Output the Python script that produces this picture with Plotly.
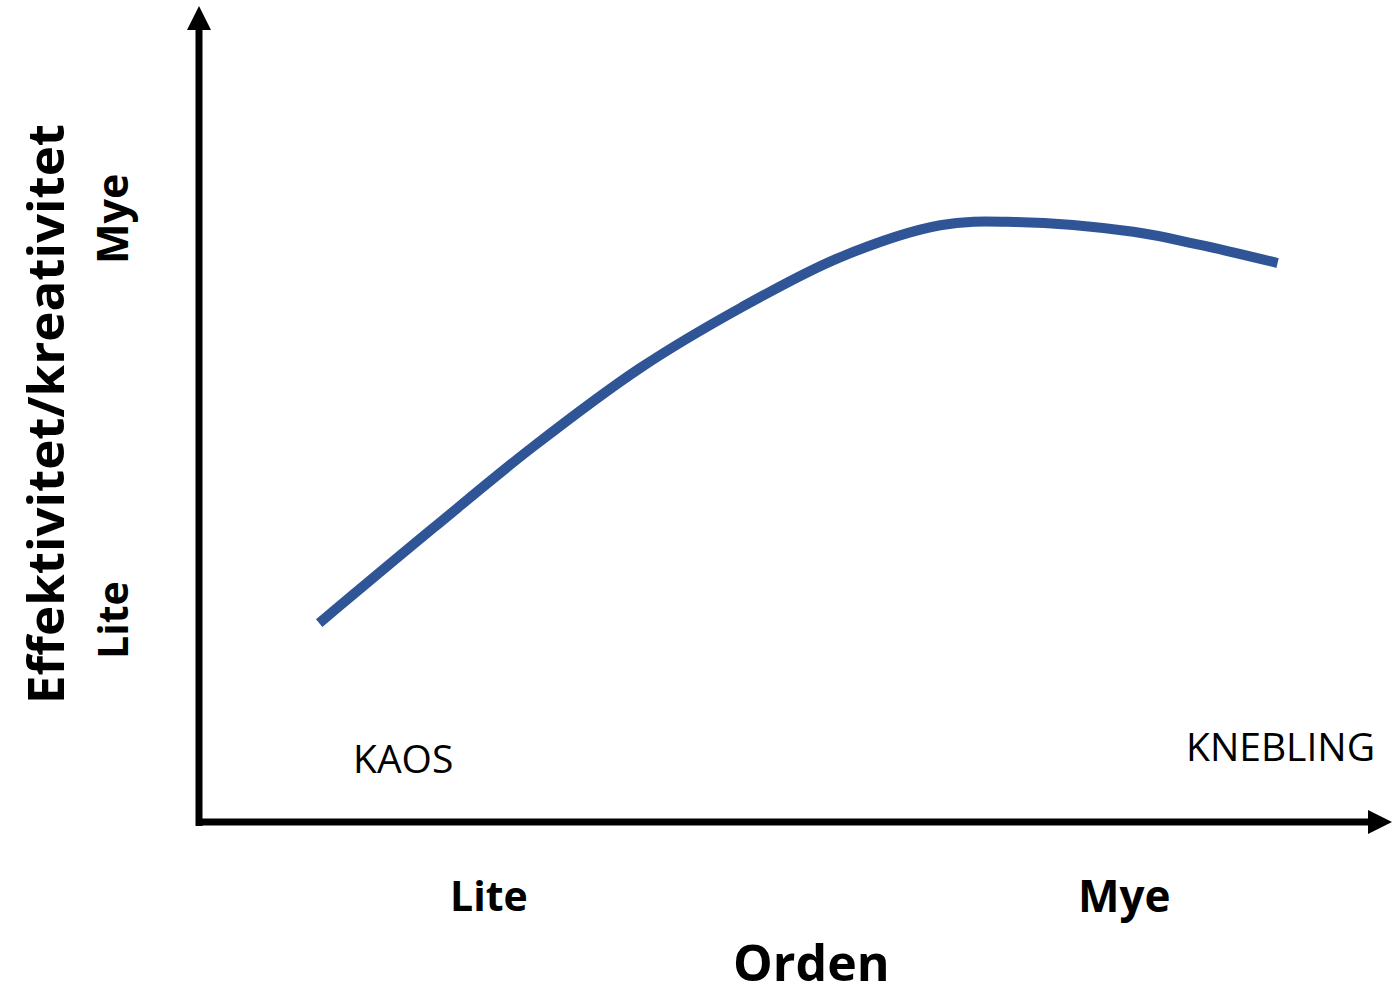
import plotly.graph_objects as go

# ---- data (abstract units: 0-100 on both axes) ----
orden = [10.0, 19.6, 27.9, 36.9, 45.3, 53.7, 62.1, 68.3, 78.3, 83.9, 90.4]
effekt = [24.2, 35.8, 45.6, 55.2, 62.5, 68.7, 72.6, 73.0, 71.8, 70.2, 68.0]

x_tick_labels = ["Lite", "Mye"]
y_tick_labels = ["Lite", "Mye"]
x_title = "Orden"
y_title = "Effektivitet/kreativitet"
region_labels = ["KAOS", "KNEBLING"]

W, H = 1392, 996
L, B = 200, 174  # plot area origin in pixels (left, from bottom)
PW, PH = W - L, H - B

def px(x):
    return (x - L) / PW

def py(y):
    return (H - B - y) / PH

fig = go.Figure()
fig.add_trace(go.Scatter(
    x=orden, y=effekt, mode="lines",
    line=dict(color="#2F5597", width=10, shape="spline", smoothing=1.0),
    hoverinfo="skip", showlegend=False,
))

shapes = []
# vertical axis shaft
shapes.append(dict(type="line", xref="paper", yref="paper",
                   x0=px(199), y0=py(826), x1=px(199), y1=py(27),
                   line=dict(color="black", width=7)))
# horizontal axis shaft
shapes.append(dict(type="line", xref="paper", yref="paper",
                   x0=px(196), y0=py(822), x1=px(1372), y1=py(822),
                   line=dict(color="black", width=7)))

def tri(p1, p2, p3):
    return "M {} {} L {} {} L {} {} Z".format(px(p1[0]), py(p1[1]), px(p2[0]), py(p2[1]), px(p3[0]), py(p3[1]))

shapes.append(dict(type="path", xref="paper", yref="paper",
                   path=tri((199, 6), (187, 30), (211, 30)),
                   fillcolor="black", line=dict(color="black", width=0)))
shapes.append(dict(type="path", xref="paper", yref="paper",
                   path=tri((1392, 822), (1368, 810), (1368, 834)),
                   fillcolor="black", line=dict(color="black", width=0)))

ann = []

def add_text(text, x, y, size, weight="bold", angle=0):
    ann.append(dict(text=text, xref="paper", yref="paper", x=px(x), y=py(y),
                    xanchor="center", yanchor="middle", showarrow=False,
                    textangle=angle,
                    font=dict(family="Open Sans", size=size, color="black", weight=weight)))

add_text(x_tick_labels[0], 489, 895, 41)
add_text(x_tick_labels[1], 1124, 895, 44)
add_text(x_title, 811, 962, 50)
add_text(y_title, 44, 414, 51, angle=-90)
add_text(y_tick_labels[1], 112, 219, 43, angle=-90)
add_text(y_tick_labels[0], 112, 620, 41, angle=-90)
add_text(region_labels[0], 403, 757, 39, weight="normal")
add_text(region_labels[1], 1280, 745, 39, weight="normal")

fig.update_layout(
    width=W, height=H,
    margin=dict(l=L, r=0, t=0, b=B),
    paper_bgcolor="white", plot_bgcolor="white",
    xaxis=dict(range=[0, 100], visible=False, fixedrange=True),
    yaxis=dict(range=[0, 100], visible=False, fixedrange=True),
    shapes=shapes, annotations=ann,
)

fig.write_html("out.html", config={"displayModeBar": False},
               post_script="document.body.style.margin='0';document.body.style.overflow='hidden';")
